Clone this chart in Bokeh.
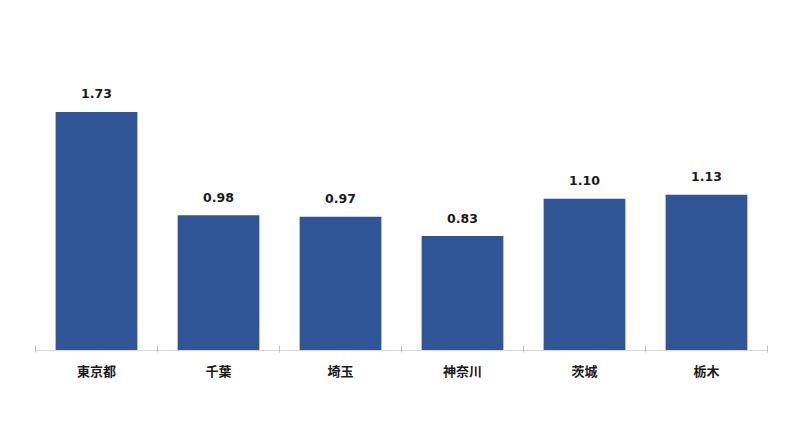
from bokeh.plotting import figure
from bokeh.models import Range1d, FixedTicker, ColumnDataSource
from bokeh.core.properties import value
from bokeh.embed import file_html
from bokeh.resources import INLINE

categories = ["東京都", "千葉", "埼玉", "神奈川", "茨城", "栃木"]
values = [1.73, 0.98, 0.97, 0.83, 1.10, 1.13]
value_labels = ["1.73", "0.98", "0.97", "0.83", "1.10", "1.13"]

xs = [i + 0.5 for i in range(len(categories))]
src = ColumnDataSource(dict(x=xs, top=values, lab=value_labels))

p = figure(width=784, height=419, output_backend="svg", toolbar_location=None,
           x_range=Range1d(0, len(categories)), y_range=Range1d(0, 2.538),
           min_border_left=35, min_border_right=17, min_border_top=0, min_border_bottom=0)
p.outline_line_color = None
p.background_fill_color = "white"
p.border_fill_color = "white"
p.grid.visible = False
p.yaxis.visible = False

p.vbar(x="x", top="top", width=0.67, source=src, fill_color="#2F5597", line_color=None)
p.text(x="x", y="top", text="lab", source=src, y_offset=-18,
       text_align="center", text_baseline="middle",
       text_font=value("DejaVu Sans"), text_font_style="bold",
       text_font_size="12.5px", text_color="#1a1a1a")

ax = p.xaxis[0]
ax.ticker = FixedTicker(ticks=xs, minor_ticks=list(range(len(categories) + 1)))
ax.major_label_overrides = {x: c for x, c in zip(xs, categories)}
ax.major_tick_line_color = None
ax.major_tick_in = 0
ax.major_tick_out = 0
ax.minor_tick_line_color = "#bfbfbf"
ax.minor_tick_in = 5
ax.minor_tick_out = 2
ax.axis_line_color = "#d9d9d9"
ax.major_label_standoff = 8
ax.major_label_text_font = "Noto Sans CJK JP"
ax.major_label_text_font_style = "bold"
ax.major_label_text_font_size = "13px"
ax.major_label_text_color = "#1a1a1a"
p.min_border_bottom = 69

open("out.html", "w").write(file_html(p, INLINE))
